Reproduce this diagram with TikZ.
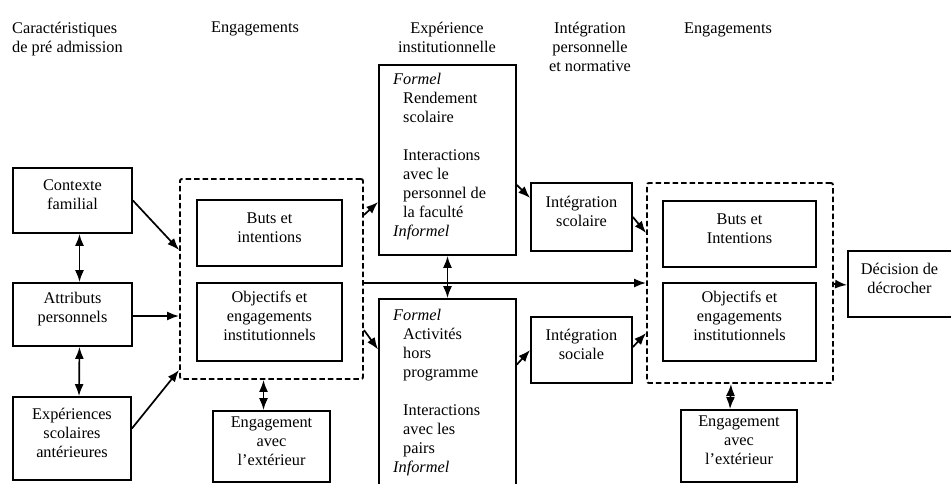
\documentclass[tikz,border=0pt]{standalone}
\usepackage{fontspec}
\setmainfont{Liberation Serif}
\usetikzlibrary{fit,arrows.meta,calc}
\begin{document}
\begin{tikzpicture}[x=1pt,y=-1pt,
  txt/.style={font=\fontsize{16.3}{19}\selectfont, inner sep=0pt},
  box/.style={draw, line width=1.8pt, inner sep=0pt, align=center, font=\fontsize{16.3}{19}\selectfont},
  dbox/.style={draw, line width=1.9pt, dash pattern=on 5.5pt off 3pt, rounded corners=2pt, inner sep=0pt},
  arr/.style={line width=1.7pt, -{Latex[length=12pt,width=9pt]}},
  darr/.style={line width=1.7pt, {Latex[length=12pt,width=9pt]}-{Latex[length=12pt,width=9pt]}},
  hdr/.style={txt, align=center, anchor=north}]
\clip (0,0) rectangle (951,483);
\fill[white] (0,0) rectangle (951,483);
% headers
\node[txt, align=left, anchor=north west] (h1) at (12,22) {Caractéristiques\\de pré admission};
\node[hdr] (h2) at (255,22) {Engagements};
\node[hdr] (h3) at (447,22) {Expérience\\institutionnelle};
\node[hdr] (h4) at (590,22) {Intégration\\personnelle\\et normative};
\node[hdr] (h5) at (728,23) {Engagements};
% left column
\node[box, fit={(13,168) (132,233)}] (cf) {Contexte\\familial};
\node[box, fit={(13,283) (132,346)}] (ap) {Attributs\\personnels};
\node[box, fit={(13,397) (131,480)}] (es) {Expériences\\scolaires\\antérieures};
% left engagements
\node[dbox, fit={(180,179) (363,379)}] (dl) {};
\node[box, fit={(197,200) (342,266)}] (bl) {Buts et\\intentions};
\node[box, fit={(197,283) (342,361)}] (ol) {Objectifs et\\engagements\\institutionnels};
\node[box, fit={(213,411) (330,482)}] (el) {Engagement\\avec\\l’extérieur};
% institutional experience
\node[box, fit={(379,65) (516,255)}] (ub) {};
\node[txt, align=left, anchor=north west] (ubt) at (393,73)
  {\textit{Formel}\\\hspace*{10pt}Rendement\\\hspace*{10pt}scolaire\\[19pt]\hspace*{10pt}Interactions\\\hspace*{10pt}avec le\\\hspace*{10pt}personnel de\\\hspace*{10pt}la faculté\\\textit{Informel}};
\node[box, fit={(379,299) (516,492)}] (lb) {};
\node[txt, align=left, anchor=north west] (lbt) at (393,309)
  {\textit{Formel}\\\hspace*{10pt}Activités\\\hspace*{10pt}hors\\\hspace*{10pt}programme\\[19pt]\hspace*{10pt}Interactions\\\hspace*{10pt}avec les\\\hspace*{10pt}pairs\\\textit{Informel}};
% integration
\node[box, fit={(531,183) (632,251)}] (i1) {Intégration\\scolaire};
\node[box, fit={(531,317) (632,383)}] (i2) {Intégration\\sociale};
% right engagements
\node[dbox, fit={(647,183) (833,383)}] (dr) {};
\node[box, fit={(663,201) (816,267)}] (br) {Buts et\\Intentions};
\node[box, fit={(663,283) (816,361)}] (or) {Objectifs et\\engagements\\institutionnels};
\node[box, fit={(681,410) (797,482)}] (er) {Engagement\\avec\\l’extérieur};
\node[box, fit={(848,251) (965,317)}] (dec) {\hspace*{-14pt}Décision de\\\hspace*{-14pt}décrocher};
% connectors
\draw[arr] (cf.east) -- ([yshift=29pt]dl.west);
\draw[arr] ([yshift=-1.5pt]ap.east) -- ([yshift=-37pt]dl.west);
\draw[arr] ([yshift=10pt]es.east) -- ([yshift=-91pt]dl.west);
\draw[darr] ([xshift=7pt]cf.south) -- ([xshift=7pt]ap.north);
\draw[darr] ([xshift=7pt]ap.south) -- ([xshift=7pt]es.north);
\draw[darr] ([xshift=-8pt]dl.south) -- ([xshift=-8pt]el.north);
\draw[arr] ([yshift=64pt]dl.east) -- ([yshift=-42pt]ub.west);
\draw[arr] ([yshift=-51pt]dl.east) -- ([yshift=46pt]lb.west);
\draw[arr] ([yshift=-4pt]dl.east) -- (dr.west);
\draw[darr] (ub.south) -- (lb.north);
\draw[arr] ([yshift=-25pt]ub.east) -- ([yshift=19pt]i1.west);
\draw[arr] ([yshift=31pt]lb.east) -- (i2.west);
\draw[arr] (i1.east) -- ([yshift=50pt]dr.west);
\draw[arr] ([yshift=3pt]i2.east) -- ([yshift=-50pt]dr.west);
\draw[arr] ([yshift=-1pt]dr.east) -- ([yshift=-1pt]dec.west);
\draw[darr] ([xshift=-9pt]dr.south) -- ([xshift=-9pt]er.north);
\end{tikzpicture}
\end{document}
